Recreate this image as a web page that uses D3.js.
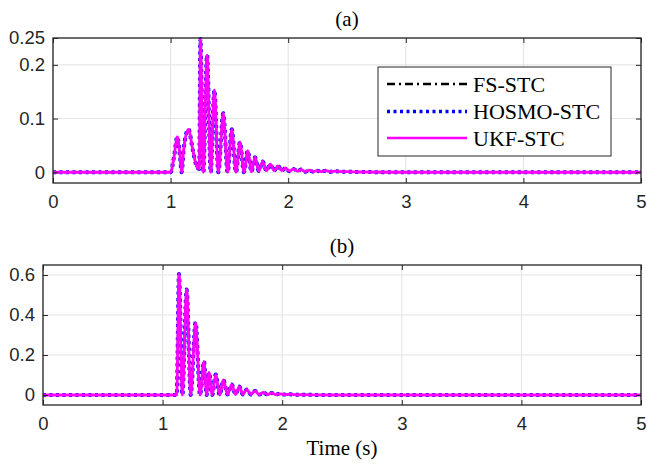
<!DOCTYPE html>
<html><head><meta charset="utf-8">
<script src="https://cdn.jsdelivr.net/npm/d3@7"></script>
<style>body{margin:0;background:#fff} svg{display:block}</style>
</head><body><svg id="c" width="647" height="466"></svg>
<script>
// ---- data ----
const seriesNames = ["FS-STC", "HOSMO-STC", "UKF-STC"];
const xTicks = [0, 1, 2, 3, 4, 5];
const yTicksA = [0, 0.1, 0.2, 0.25];
const yTicksB = [0, 0.2, 0.4, 0.6];
const titles = ["(a)", "(b)"];
const xLabel = "Time (s)";

// panel (a): time (s) and value
const timeA = [0, 1.0, 1.03, 1.057, 1.08, 1.094, 1.11, 1.151, 1.19, 1.22, 1.244, 1.253, 1.278, 1.31, 1.341, 1.372, 1.406, 1.448, 1.485, 1.52, 1.556, 1.59, 1.624, 1.656, 1.688, 1.718, 1.75, 1.783, 1.815, 1.848, 1.88, 1.913, 1.945, 1.978, 2.01, 2.045, 2.08, 2.11, 2.145, 2.18, 2.21, 2.245, 2.28, 2.32, 2.36, 2.4, 2.45, 2.5, 2.6, 3.0, 5.0];
const valueA = [0, 0, 0.03, 0.066, 0.03, 0.0, 0.04, 0.080, 0.04, 0.012, 0.006, 0.248, 0.0, 0.218, 0.0, 0.153, 0.0, 0.110, 0.0, 0.080, 0.0, 0.056, 0.0, 0.040, 0.001, 0.028, 0.002, 0.020, 0.003, 0.015, 0.003, 0.012, 0.003, 0.008, 0.002, 0.006, 0.002, 0.005, 0.001, 0.004, 0.001, 0.003, 0.001, 0.003, 0.001, 0.002, 0.001, 0.001, 0.0005, 0, 0];

// panel (b)
const timeB = [0, 1.118, 1.137, 1.165, 1.201, 1.235, 1.276, 1.313, 1.346, 1.368, 1.388, 1.415, 1.444, 1.478, 1.508, 1.543, 1.578, 1.61, 1.641, 1.672, 1.703, 1.738, 1.773, 1.808, 1.842, 1.877, 1.912, 1.946, 1.98, 2.02, 2.065, 2.1, 2.2, 2.4, 5.0];
const valueB = [0, 0, 0.605, 0, 0.527, 0, 0.363, 0, 0.168, 0.0, 0.112, 0.0, 0.103, 0.0, 0.075, 0.002, 0.053, 0.003, 0.042, 0.003, 0.028, 0.003, 0.020, 0.002, 0.013, 0.002, 0.010, 0.002, 0.006, 0.002, 0.004, 0.002, 0.001, 0, 0];

// the three estimators overlap in the picture
const fsA = valueA, hosmoA = valueA, ukfA = valueA;
const fsB = valueB, hosmoB = valueB, ukfB = valueB;

// ---- drawing ----
const svg = d3.select("#c");
const AX = "#262626";
const styles = [
  {stroke: "#000000", width: 2, dash: "8,4,2,4"},
  {stroke: "#0000ff", width: 4, dash: "3,3.5"},
  {stroke: "#ff00ff", width: 2.8, dash: null}
];

function panel(cfg) {
  const {left, right, top, bottom, ydom, yTicks, time, series, title, labelGap, idx} = cfg;
  const x = d3.scaleLinear().domain([0, 5]).range([left, right]);
  const y = d3.scaleLinear().domain(ydom).range([bottom, top]);
  const g = svg.append("g");

  // grid
  g.selectAll(".gx").data(xTicks).enter().append("line")
    .attr("x1", d => x(d)).attr("x2", d => x(d)).attr("y1", top).attr("y2", bottom)
    .attr("stroke", "#e3e3e3").attr("stroke-width", 1);
  g.selectAll(".gy").data(yTicks).enter().append("line")
    .attr("x1", left).attr("x2", right).attr("y1", d => y(d)).attr("y2", d => y(d))
    .attr("stroke", "#e3e3e3").attr("stroke-width", 1);

  // lines
  const cid = "clip" + idx;
  svg.append("clipPath").attr("id", cid).append("rect")
    .attr("x", left).attr("y", top - 2).attr("width", right - left).attr("height", bottom - top + 2);
  const line = d3.line().x(d => x(d[0])).y(d => y(d[1])).curve(d3.curveMonotoneX);
  series.forEach((vals, i) => {
    const pts = time.map((t, k) => [t, vals[k]]);
    g.append("path").datum(pts).attr("d", line)
      .attr("fill", "none").attr("stroke", styles[i].stroke)
      .attr("stroke-width", styles[i].width)
      .attr("stroke-dasharray", styles[i].dash)
      .attr("stroke-linejoin", "round")
      .attr("clip-path", `url(#${cid})`);
  });

  // axes (box with inward ticks)
  const xb = d3.axisBottom(x).tickValues(xTicks).tickSizeInner(-5).tickSizeOuter(0).tickPadding(12).tickFormat(d3.format("d"));
  const xt = d3.axisTop(x).tickValues(xTicks).tickSizeInner(-5).tickSizeOuter(0).tickFormat("");
  const yl = d3.axisLeft(y).tickValues(yTicks).tickSizeInner(-5).tickSizeOuter(0).tickPadding(labelGap).tickFormat(d => d === 0 ? "0" : String(d));
  const yr = d3.axisRight(y).tickValues(yTicks).tickSizeInner(-5).tickSizeOuter(0).tickFormat("");
  [[xb, `translate(0,${bottom})`], [xt, `translate(0,${top})`], [yl, `translate(${left},0)`], [yr, `translate(${right},0)`]].forEach(([a, tr]) => {
    const ga = g.append("g").attr("transform", tr).call(a);
    ga.select(".domain").remove();
    ga.selectAll("line").attr("stroke", AX).attr("stroke-width", 1);
    ga.selectAll("text").attr("fill", AX).attr("font-family", "'Liberation Sans', Arial, sans-serif").attr("font-size", 18.5);
  });
  g.append("rect").attr("x", left).attr("y", top).attr("width", right - left).attr("height", bottom - top)
    .attr("fill", "none").attr("stroke", AX).attr("stroke-width", 1.3);

  // title
  g.append("text").attr("x", (left + right) / 2).attr("y", top - 12)
    .attr("text-anchor", "middle").attr("font-family", "'Liberation Serif', 'Times New Roman', serif")
    .attr("font-size", 21).attr("fill", "#000").text(title);
  return {x, y, g};
}

panel({left: 53, right: 641, top: 38, bottom: 183, ydom: [-0.02, 0.25], yTicks: yTicksA,
  time: timeA, series: [fsA, hosmoA, ukfA], title: titles[0], labelGap: 8, idx: 0});
panel({left: 43, right: 641, top: 265, bottom: 405, ydom: [-0.05, 0.65], yTicks: yTicksB,
  time: timeB, series: [fsB, hosmoB, ukfB], title: titles[1], labelGap: 8, idx: 1});

// x label
svg.append("text").attr("x", (43 + 641) / 2).attr("y", 455)
  .attr("text-anchor", "middle").attr("font-family", "'Liberation Serif', 'Times New Roman', serif")
  .attr("font-size", 21).attr("fill", "#000").text(xLabel);

// legend
const lg = svg.append("g");
lg.append("rect").attr("x", 378).attr("y", 67).attr("width", 233).attr("height", 89)
  .attr("fill", "#fff").attr("stroke", AX).attr("stroke-width", 1);
const legY = [84, 111.5, 138];
seriesNames.forEach((name, i) => {
  lg.append("line").attr("x1", 387).attr("x2", 467).attr("y1", legY[i]).attr("y2", legY[i])
    .attr("stroke", styles[i].stroke).attr("stroke-width", i === 1 ? 3.5 : (i === 2 ? 2.5 : 2.5))
    .attr("stroke-dasharray", styles[i].dash);
  lg.append("text").attr("x", 473).attr("y", legY[i]).attr("dy", "0.35em")
    .attr("font-family", "'Liberation Serif', 'Times New Roman', serif").attr("font-size", 22)
    .attr("fill", "#000").text(name);
});
</script></body></html>
